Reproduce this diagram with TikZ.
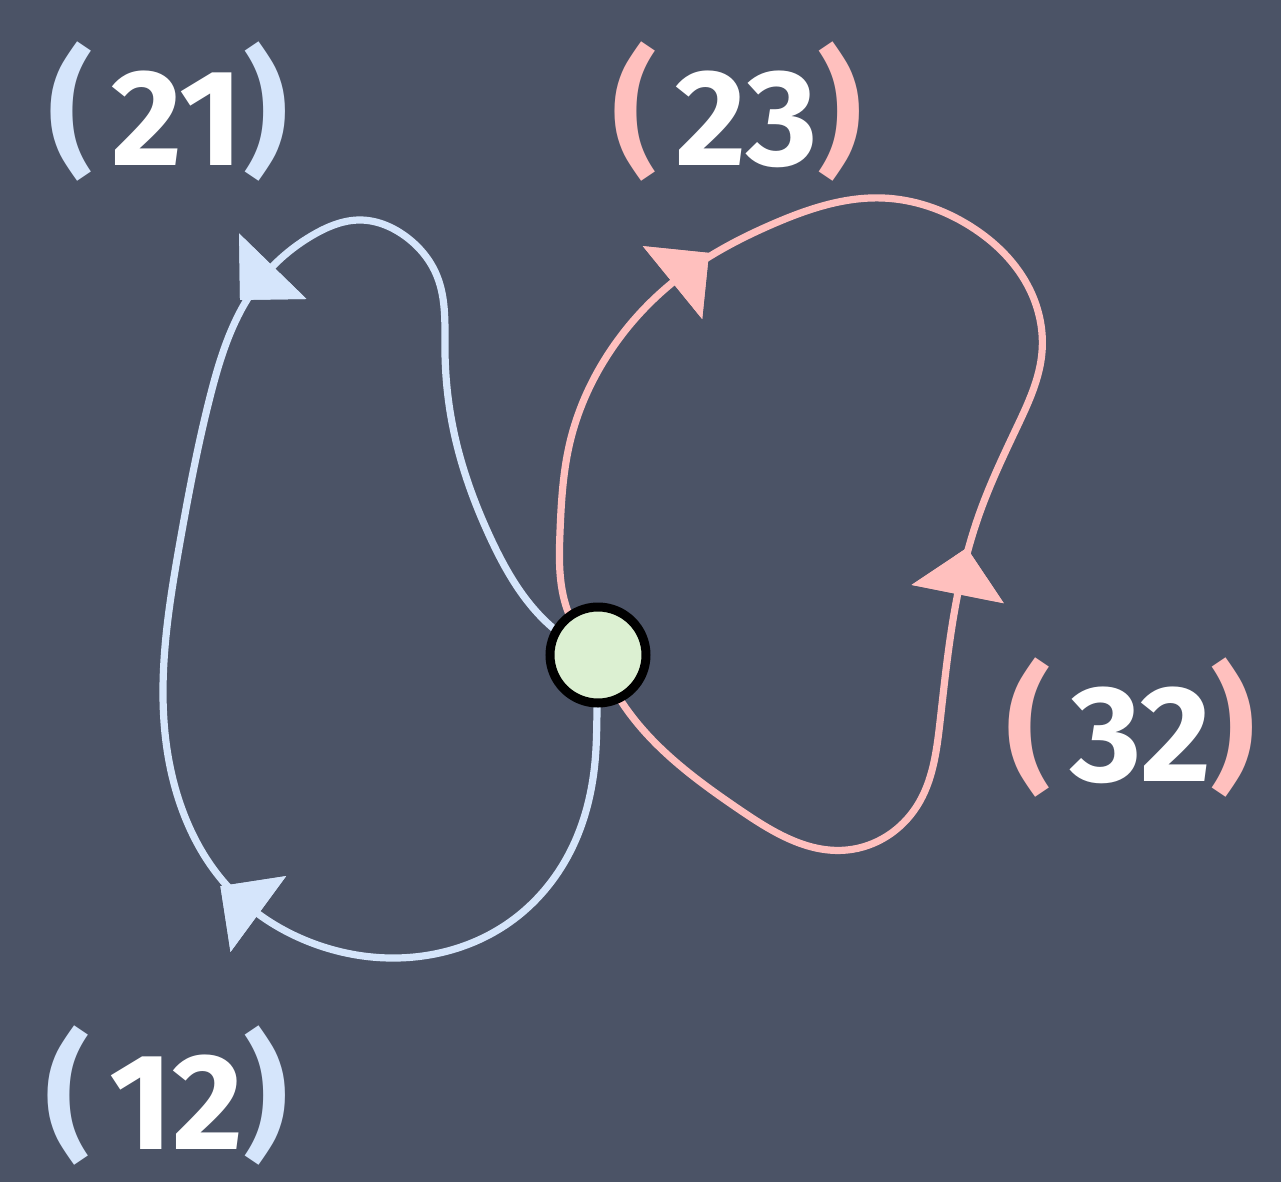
\documentclass[tikz,border=0pt]{standalone}
\usepackage{fontspec}
\usepackage{xcolor}
\usepackage{tikz}
\usetikzlibrary{arrows.meta,positioning,calc,decorations.markings,hobby}
\newfontfamily\chalkfont{Fira Sans}
\definecolor{board}{HTML}{4B5366}
\definecolor{loopblue}{HTML}{D5E5FB}
\definecolor{looppink}{HTML}{FFC0BE}
\definecolor{hubfill}{HTML}{DCF0D2}
\newcommand{\lbl}[2]{{\color{#1}(}\kern0.14em\raisebox{-0.04em}{#2}{\color{#1})}}

\begin{document}
\begin{tikzpicture}[
  edge/.style={line width=0.072cm, line cap=round, use Hobby shortcut},
  % forward and backward arrowheads along a loop
  fwdtip/.style={postaction={decorate}, decoration={markings, mark=at position #1 with {\fill (0,0.47) -- (0.47,0) -- (0,-0.47) -- cycle;}}},
  backtip/.style={postaction={decorate}, decoration={markings, mark=at position #1 with {\fill (0,0.47) -- (-0.47,0) -- (0,-0.47) -- cycle;}}},
  hub/.style={circle, draw=black, line width=0.09cm, fill=hubfill, minimum size=0.96cm, inner sep=0pt},
  lab/.style={text=white, inner sep=0pt, font=\chalkfont\bfseries\fontsize{39}{39}\selectfont},
]
  \fill[board] (0,0) rectangle (12.81,11.82);
  \useasboundingbox (0,0) rectangle (12.81,11.82);

  \coordinate (c) at (5.98,5.27);
  \coordinate (bl) at (1.63,4.88);
  \coordinate (rr) at (10.17,7.55);

  % left loop: (21) over the top, (12) round the bottom
  \draw[edge, loopblue, fwdtip=0.335, backtip=0.703] (c) .. (5.53,5.54) .. (4.90,6.45) .. (4.55,7.45) .. (4.45,8.3)
    .. (4.37,9.06) .. (4.05,9.46) .. (3.60,9.62) .. (3.13,9.47) .. (2.73,9.16) .. (2.45,8.79) .. (2.10,7.85)
    .. (1.80,6.40) .. (bl) .. (1.66,4.4) .. (1.85,3.65) .. (2.22,3.02) .. (2.57,2.69) .. (3.07,2.41) .. (3.90,2.24)
    .. (5.10,2.6) .. (5.70,3.3) .. (5.95,4.2) .. (5.97,4.73) .. (c);

  % right loop: (23) over the top, (32) up the right side
  \draw[edge, looppink, fwdtip=0.234, backtip=0.645] (c) .. (5.67,5.73) .. (5.60,6.50) .. (5.70,7.40) .. (6.07,8.26)
    .. (6.77,9.03) .. (7.73,9.58) .. (8.83,9.84) .. (9.70,9.56) .. (10.30,8.92) .. (10.42,8.3) .. (rr)
    .. (9.80,6.70) .. (9.53,5.62) .. (9.40,4.6) .. (9.17,3.76) .. (8.47,3.32) .. (7.40,3.72) .. (6.23,4.78) .. (c);

  \node[hub] (vtx) at (c) {};

  \node[lab] (l21) at (1.68,10.70) {\lbl{loopblue}{21}};
  \node[lab] (l23) at (7.37,10.70) {\lbl{looppink}{23}};
  \node[lab] (l32) at (11.31,4.54) {\lbl{looppink}{32}};
  \node[lab] (l12) at (1.67,0.86) {\lbl{loopblue}{12}};
\end{tikzpicture}
\end{document}
